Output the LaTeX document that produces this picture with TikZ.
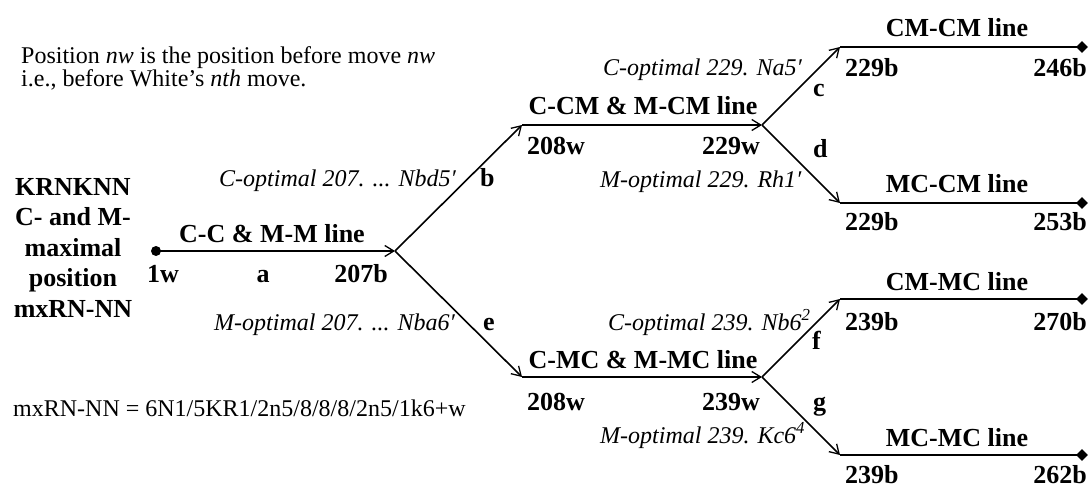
\documentclass[tikz,border=0pt]{standalone}
\usepackage{fontspec}
\setmainfont{Liberation Serif}
\usetikzlibrary{arrows.meta,shapes.geometric}
\tikzset{
  branch/.style={line width=1.6pt,-{Straight Barb[length=9pt,width=11pt,line width=1.3pt]}},
  tail/.style={line width=1.6pt},
  linename/.style={font=\fontsize{26}{30.5}\selectfont\bfseries,anchor=base},
  ply/.style={font=\fontsize{26}{30.5}\selectfont\bfseries},
  optmove/.style={font=\fontsize{24}{22}\selectfont\itshape},
  note/.style={font=\fontsize{24}{22}\selectfont},
  enddot/.style={fill,diamond,minimum size=12pt},
}
\begin{document}
\begin{tikzpicture}[x=1pt,y=-1pt,every node/.style={inner sep=0pt}]
\useasboundingbox (0,0) rectangle (1091,486);

\node[fill,circle,minimum size=10pt] (s) at (156,251) {};
\coordinate (p) at (395,251);
\coordinate (cm1) at (522,125);
\coordinate (cm2) at (762,125);
\coordinate (mc1) at (522,377);
\coordinate (mc2) at (762,377);
\coordinate (cmcm) at (840,47);
\coordinate (mccm) at (840,203);
\coordinate (cmmc) at (840,299);
\coordinate (mcmc) at (840,455);
\node[enddot] (cmcmE) at (1082,47) {};
\node[enddot] (mccmE) at (1082,203) {};
\node[enddot] (cmmcE) at (1082,299) {};
\node[enddot] (mcmcE) at (1082,455) {};

\draw[branch] (s.center) -- (p);
\draw[branch] (p) -- (cm1);
\draw[branch] (cm1) -- (cm2);
\draw[branch] (p) -- (mc1);
\draw[branch] (mc1) -- (mc2);
\draw[branch] (cm2) -- (cmcm);
\draw[branch] (cm2) -- (mccm);
\draw[branch] (mc2) -- (cmmc);
\draw[branch] (mc2) -- (mcmc);
\foreach \n in {cmcm,mccm,cmmc,mcmc}
  \draw[tail] (\n) -- (\n E.center);

\node[note,align=left,anchor=base west] (def) at (21,87) {Position \textit{nw} is the position before move \textit{nw}\\i.e., before White's \textit{nth} move.};
\node[ply,align=center,anchor=base] (pos) at (73,317) {KRNKNN\\C- and M-\\maximal\\position\\mxRN-NN};
\node[note,anchor=base west] (fen) at (13,416) {mxRN-NN = 6N1/5KR1/2n5/8/8/8/2n5/1k6+w};

\node[linename] (ccmm) at (272,242) {C-C \& M-M line};
\node[ply,anchor=base west] (w1) at (147,282) {1w};
\node[ply,anchor=base] (a) at (263,282) {a};
\node[ply,anchor=base east] (b207) at (388,282) {207b};

\node[optmove,anchor=base east] (copt207) at (456,187) {C-optimal 207. ... Nbd5′};
\node[ply,anchor=base west] (b) at (480,187) {b};
\node[optmove,anchor=base east] (mopt207) at (455,330) {M-optimal 207. ... Nba6′};
\node[ply,anchor=base west] (e) at (483,330) {e};

\node[linename] (ccm) at (643,115) {C-CM \& M-CM line};
\node[ply,anchor=base west] (w208a) at (527,155) {208w};
\node[ply,anchor=base east] (w229) at (760,155) {229w};
\node[optmove,anchor=base west] (copt229) at (603,76) {C-optimal 229. Na5′};
\node[optmove,anchor=base west] (mopt229) at (600,188) {M-optimal 229. Rh1′};
\node[ply,anchor=base west] (c) at (813,97) {c};
\node[ply,anchor=base west] (d) at (813,158) {d};

\node[linename] (cmc) at (643,368) {C-MC \& M-MC line};
\node[ply,anchor=base west] (w208b) at (527,410) {208w};
\node[ply,anchor=base east] (w239) at (760,410) {239w};
\node[optmove,anchor=base west] (copt239) at (608,330) {C-optimal 239. Nb6\textsuperscript{2}};
\node[optmove,anchor=base west] (mopt239) at (600,443) {M-optimal 239. Kc6\textsuperscript{4}};
\node[ply,anchor=base west] (f) at (812,349) {f};
\node[ply,anchor=base west] (g) at (813,410) {g};

\node[linename] (cmcmL) at (957,37) {CM-CM line};
\node[ply,anchor=base west] (b229a) at (845,77) {229b};
\node[ply,anchor=base east] (b246) at (1087,77) {246b};
\node[linename] (mccmL) at (957,193) {MC-CM line};
\node[ply,anchor=base west] (b229b) at (845,230) {229b};
\node[ply,anchor=base east] (b253) at (1087,230) {253b};
\node[linename] (cmmcL) at (957,290) {CM-MC line};
\node[ply,anchor=base west] (b239a) at (845,330) {239b};
\node[ply,anchor=base east] (b270) at (1087,330) {270b};
\node[linename] (mcmcL) at (957,446) {MC-MC line};
\node[ply,anchor=base west] (b239b) at (845,483) {239b};
\node[ply,anchor=base east] (b262) at (1087,483) {262b};
\end{tikzpicture}
\end{document}
